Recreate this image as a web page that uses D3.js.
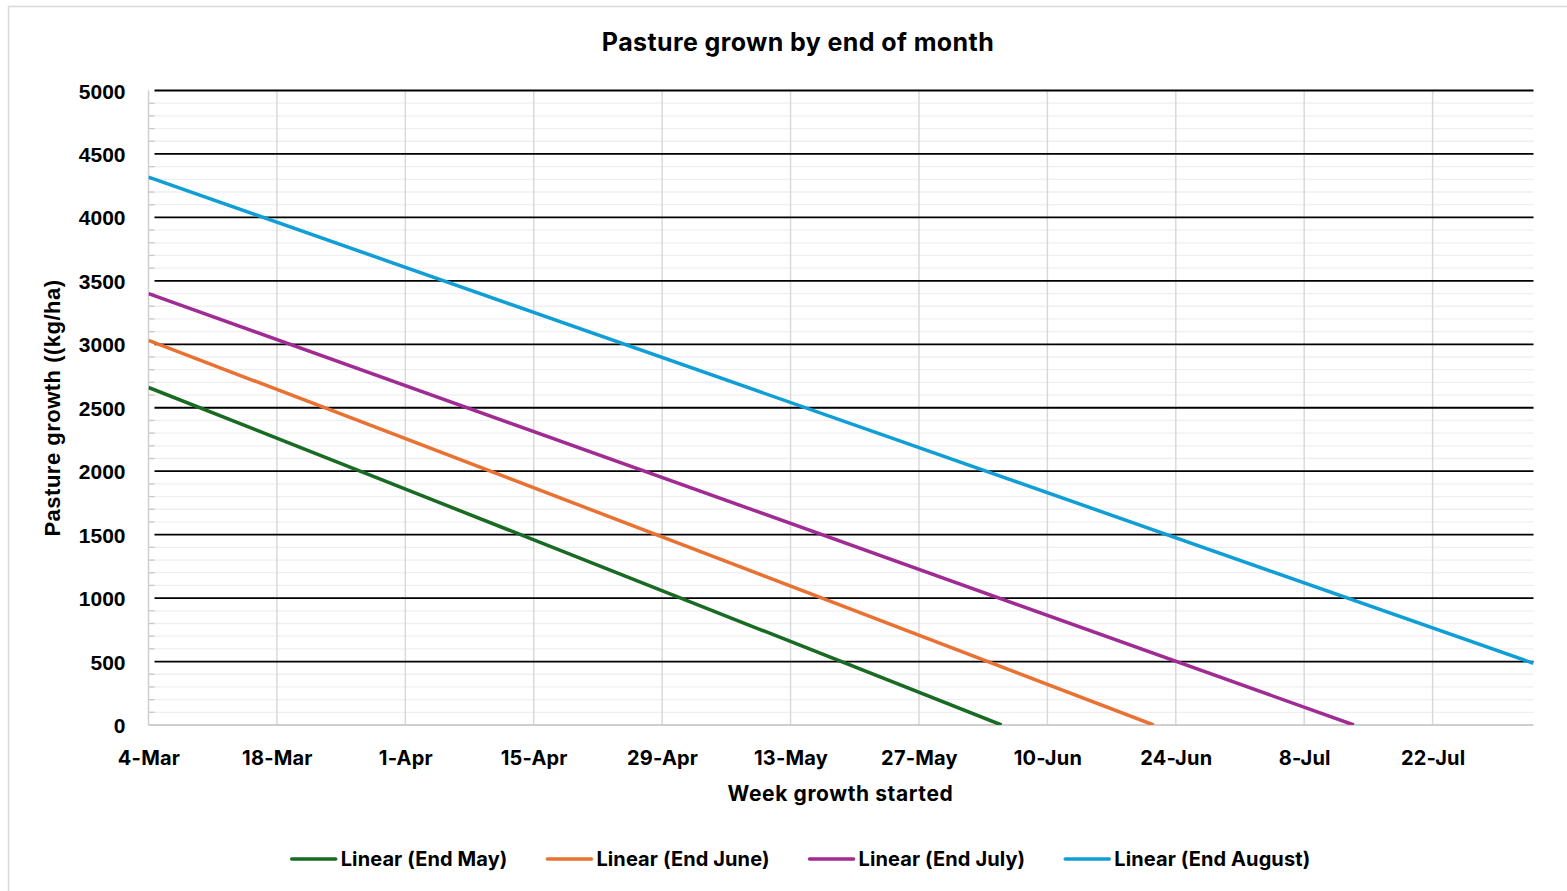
<!DOCTYPE html>
<html>
<head>
<meta charset="utf-8">
<script src="https://cdn.jsdelivr.net/npm/d3@7/dist/d3.min.js"></script>
<style>
  html, body { margin: 0; padding: 0; background: #fff; }
  svg { display: block; }
</style>
</head>
<body>
<svg id="chart" width="1567" height="891"></svg>
<script>
// ---------------- DATA ----------------
const chartTitle = "Pasture grown by end of month";
const xAxisTitle = "Week growth started";
const yAxisTitle = "Pasture growth ((kg/ha)";

const xTickLabels = ["4-Mar","18-Mar","1-Apr","15-Apr","29-Apr","13-May","27-May","10-Jun","24-Jun","8-Jul","22-Jul"];
const xDomainDates = ["2024-03-04T00:00", "2024-08-02T00:00"];
const yTickValues = [0, 500, 1000, 1500, 2000, 2500, 3000, 3500, 4000, 4500, 5000];

const seriesNames = ["Linear (End May)", "Linear (End June)", "Linear (End July)", "Linear (End August)"];
// trendline end points (start of axis, and where the line leaves the plot)
const endMayDates    = ["2024-03-04T00:00", "2024-06-05T00:00"];
const endMayValues   = [2660, 0];
const endJuneDates   = ["2024-03-04T00:00", "2024-06-21T14:00"];
const endJuneValues  = [3031, 0];
const endJulyDates   = ["2024-03-04T00:00", "2024-07-13T10:00"];
const endJulyValues  = [3399, 0];
const endAugustDates = ["2024-03-04T00:00", "2024-08-02T00:00"];
const endAugustValues= [4317, 486];

// ---------------- STYLE ----------------
const seriesColors = ["#196b24", "#e97132", "#a02b93", "#0f9ed5"];
const textFont = "Inter, 'Open Sans', sans-serif";
const numFont = "'Liberation Sans', Arial, sans-serif";

const svg = d3.select("#chart");
const W = 1567, H = 891;
const plot = { left: 148.5, right: 1533.5, top: 90.5, bottom: 725 };

const parseIso = d3.utcParse("%Y-%m-%dT%H:%M");
const parseTick = d3.utcParse("%d-%b-%Y");
const tickDates = xTickLabels.map(l => parseTick(l + "-2024"));

const x = d3.scaleUtc().domain(xDomainDates.map(parseIso)).range([plot.left, plot.right]);
const y = d3.scaleLinear().domain([0, 5000]).range([plot.bottom, plot.top]);

// background + outer border
svg.append("rect").attr("x", 0).attr("y", 0).attr("width", W).attr("height", H).attr("fill", "#fff");
svg.append("rect").attr("x", 8.5).attr("y", 6.5).attr("width", 1600).attr("height", 900)
  .attr("fill", "none").attr("stroke", "#d9d9d9").attr("stroke-width", 1.5);

// minor horizontal gridlines (every 100)
const minorVals = d3.range(100, 5000, 100).filter(v => v % 500 !== 0);
svg.append("g").selectAll("line").data(minorVals).join("line")
  .attr("x1", plot.left).attr("x2", plot.right)
  .attr("y1", d => y(d)).attr("y2", d => y(d))
  .attr("stroke", "#efefef").attr("stroke-width", 1.3);

// vertical gridlines
svg.append("g").selectAll("line").data(tickDates.slice(1)).join("line")
  .attr("x1", d => x(d)).attr("x2", d => x(d))
  .attr("y1", plot.top).attr("y2", plot.bottom)
  .attr("stroke", "#d9d9d9").attr("stroke-width", 1.5);

// minor tick marks on y axis (inside)
svg.append("g").selectAll("line").data(minorVals).join("line")
  .attr("x1", plot.left).attr("x2", plot.left + 6)
  .attr("y1", d => y(d)).attr("y2", d => y(d))
  .attr("stroke", "#c8c8c8").attr("stroke-width", 1.3);

// major horizontal gridlines (black)
svg.append("g").selectAll("line").data(yTickValues.filter(v => v > 0)).join("line")
  .attr("x1", plot.left + 6).attr("x2", plot.right)
  .attr("y1", d => y(d)).attr("y2", d => y(d))
  .attr("stroke", "#000").attr("stroke-width", 1.8);

// axes lines
svg.append("line").attr("x1", plot.left).attr("x2", plot.left)
  .attr("y1", plot.top).attr("y2", plot.bottom)
  .attr("stroke", "#d0d0d0").attr("stroke-width", 1.5);
svg.append("line").attr("x1", plot.left).attr("x2", plot.right)
  .attr("y1", plot.bottom).attr("y2", plot.bottom)
  .attr("stroke", "#bfbfbf").attr("stroke-width", 1.6);

// Y axis labels
const yAxis = d3.axisLeft(y).tickValues(yTickValues).tickSize(0).tickPadding(0).tickFormat(d3.format("d"));
const gy = svg.append("g").attr("transform", `translate(${plot.left - 23},0)`).call(yAxis);
gy.select(".domain").remove();
gy.selectAll("text").attr("font-family", numFont).attr("font-weight", "bold")
  .attr("font-size", 21).attr("fill", "#000").attr("dy", "0.36em");

// X axis labels
const xAxis = d3.axisBottom(x).tickValues(tickDates).tickSize(0).tickPadding(0)
  .tickFormat((d, i) => xTickLabels[i]);
const gx = svg.append("g").attr("transform", `translate(0,${plot.bottom + 22})`).call(xAxis);
gx.select(".domain").remove();
gx.selectAll("text").attr("font-family", textFont).attr("font-weight", "bold")
  .attr("font-size", 20).attr("letter-spacing", 0.2).attr("fill", "#000").attr("dy", "0.9em");

// Series lines
const seriesData = [
  endMayDates.map((d, i) => ({ date: parseIso(d), value: endMayValues[i] })),
  endJuneDates.map((d, i) => ({ date: parseIso(d), value: endJuneValues[i] })),
  endJulyDates.map((d, i) => ({ date: parseIso(d), value: endJulyValues[i] })),
  endAugustDates.map((d, i) => ({ date: parseIso(d), value: endAugustValues[i] }))
];
const line = d3.line().x(d => x(d.date)).y(d => y(d.value));
svg.append("defs").append("clipPath").attr("id", "clip").append("rect")
  .attr("x", plot.left).attr("y", plot.top - 5).attr("width", plot.right - plot.left).attr("height", plot.bottom - plot.top + 5);
svg.append("g").attr("clip-path", "url(#clip)").selectAll("path").data(seriesData).join("path")
  .attr("d", line).attr("fill", "none")
  .attr("stroke", (d, i) => seriesColors[i]).attr("stroke-width", 3.5);

// Title
svg.append("text").attr("x", 798).attr("y", 51).attr("text-anchor", "middle")
  .attr("font-family", textFont).attr("font-weight", "bold").attr("font-size", 25)
  .attr("letter-spacing", 0.4).attr("fill", "#000").text(chartTitle);

// Axis titles
svg.append("text").attr("x", 840.5).attr("y", 801).attr("text-anchor", "middle")
  .attr("font-family", textFont).attr("font-weight", "bold").attr("font-size", 21)
  .attr("letter-spacing", 0.6).attr("fill", "#000").text(xAxisTitle);
svg.append("text").attr("transform", `translate(60,408) rotate(-90)`).attr("text-anchor", "middle")
  .attr("font-family", numFont).attr("font-weight", "bold").attr("font-size", 22)
  .attr("letter-spacing", 0.5).attr("fill", "#000").text(yAxisTitle);

// Legend
const legendY = 859;
const legend = svg.append("g");
const items = legend.selectAll("g").data(seriesNames).join("g");
items.append("line").attr("x1", 0).attr("x2", 44).attr("y1", 0).attr("y2", 0)
  .attr("stroke", (d, i) => seriesColors[i]).attr("stroke-width", 3.5).attr("stroke-linecap", "round");
items.append("text").attr("x", 49).attr("y", 0).attr("dy", "0.35em")
  .attr("font-family", textFont).attr("font-weight", "bold").attr("font-size", 20)
  .attr("letter-spacing", 0.1).attr("fill", "#000").text(d => d);
const gap = 40;
const widths = [];
items.each(function () {
  const w = 49 + this.querySelector("text").getComputedTextLength();
  widths.push(w);
});
const total = d3.sum(widths) + gap * (widths.length - 1);
const start = 801 - total / 2;
items.attr("transform", (d, i) => {
  const tx = start + d3.sum(widths.slice(0, i)) + gap * i;
  return `translate(${tx},${legendY})`;
});
</script>
</body>
</html>
